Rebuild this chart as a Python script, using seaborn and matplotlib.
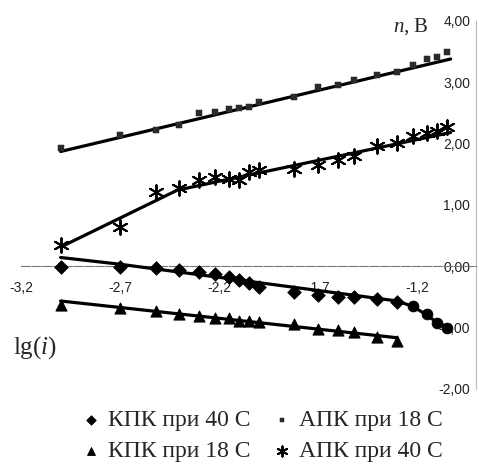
import matplotlib
matplotlib.use("Agg")
import matplotlib.pyplot as plt
import matplotlib.ticker as mticker
import seaborn as sns

# lg(i) values of the measured points
lg_i = [-3.0, -2.7, -2.52, -2.4, -2.3, -2.22, -2.15, -2.1, -2.05, -2.0,
        -1.82, -1.7, -1.6, -1.52, -1.4, -1.3, -1.22, -1.15, -1.1, -1.05]

# n, V
apk18 = [1.92, 2.14, 2.22, 2.30, 2.50, 2.51, 2.56, 2.58, 2.59, 2.68,
         2.76, 2.92, 2.95, 3.03, 3.12, 3.16, 3.28, 3.38, 3.41, 3.49]
apk40 = [0.34, 0.64, 1.21, 1.27, 1.40, 1.45, 1.42, 1.40, 1.53, 1.57,
         1.58, 1.65, 1.73, 1.79, 1.96, 2.01, 2.12, 2.17, 2.20, 2.27]
kpk40 = [-0.02, -0.01, -0.03, -0.07, -0.10, -0.13, -0.18, -0.23, -0.28, -0.34,
         -0.42, -0.47, -0.51, -0.51, -0.54, -0.59]
kpk40_tail = [-0.65, -0.78, -0.93, -1.01]
kpk18 = [-0.64, -0.68, -0.74, -0.79, -0.82, -0.84, -0.85, -0.89, -0.90, -0.92,
         -0.95, -1.02, -1.05, -1.08, -1.15, -1.23]

# hand-drawn approximation lines
apk18_line_x = [-3.0, -1.03]
apk18_line_y = [1.87, 3.38]
apk40_line_x = [-3.0, -2.41, -1.03]
apk40_line_y = [0.31, 1.24, 2.18]
kpk40_line_x = [-3.0, -2.7, -1.3, -1.22, -1.15, -1.1, -1.04]
kpk40_line_y = [0.14, 0.03, -0.57, -0.66, -0.80, -0.92, -1.00]
kpk18_line_x = [-3.0, -1.3]
kpk18_line_y = [-0.57, -1.17]

x_ticks = [-3.2, -2.7, -2.2, -1.7, -1.2]
y_ticks = [-2, -1, 0, 1, 2, 3, 4]

sns.set_theme(style="white")
plt.rcParams["font.family"] = ["Liberation Sans", "DejaVu Sans"]
plt.rcParams["mathtext.fontset"] = "custom"
plt.rcParams["mathtext.it"] = "Liberation Serif:italic"
plt.rcParams["mathtext.rm"] = "Liberation Serif"

fig = plt.figure(figsize=(4.79, 4.71), dpi=100)
ax = fig.add_axes([21 / 479, 1 - 388.6 / 471, 455.4 / 479, 367.6 / 471])

line_kw = dict(color="black", linewidth=2.3, sort=False, estimator=None,
               legend=False, zorder=4)
for lx, ly in [(apk18_line_x, apk18_line_y), (apk40_line_x, apk40_line_y),
               (kpk40_line_x, kpk40_line_y), (kpk18_line_x, kpk18_line_y)]:
    sns.lineplot(x=lx, y=ly, ax=ax, **line_kw)

n16 = len(kpk40)
sns.scatterplot(x=lg_i[:n16], y=kpk40, ax=ax, marker="D", s=48, color="black",
                edgecolor="black", zorder=5, clip_on=False, label="КПК при 40 С")
sns.scatterplot(x=lg_i[n16:], y=kpk40_tail, ax=ax, marker="o", s=60, color="black",
                edgecolor="black", zorder=5, clip_on=False)
sns.scatterplot(x=lg_i[:n16], y=kpk18, ax=ax, marker="^", s=65, color="black",
                edgecolor="black", zorder=5, clip_on=False, label="КПК при 18 С")
sns.scatterplot(x=lg_i, y=apk18, ax=ax, marker="s", s=20, color="#2a2a2a",
                edgecolor="#2a2a2a", zorder=5, clip_on=False, label="АПК при 18 С")
sns.scatterplot(x=lg_i, y=apk40, ax=ax, marker=(6, 2, 0), s=110, color="black",
                linewidth=1.4, zorder=5, clip_on=False, label="АПК при 40 С")
ax.get_legend().remove()

ax.set_xlim(-3.2, -0.9)
ax.set_ylim(-2, 4)
for s in ["top", "right"]:
    ax.spines[s].set_visible(False)
ax.spines["bottom"].set_position(("data", 0))
ax.spines["left"].set_position(("data", -0.9))
ax.spines["bottom"].set_color("#777777")
ax.spines["bottom"].set_linestyle((0, (8, 1.5)))
ax.spines["left"].set_color("#bbbbbb")
ax.spines["bottom"].set_linewidth(0.8)
ax.spines["left"].set_linewidth(0.8)

ax.set_xticks(x_ticks)
ax.set_yticks(y_ticks)
ax.xaxis.set_major_formatter(mticker.FuncFormatter(lambda v, p: f"{v:.1f}".replace(".", ",")))
ax.yaxis.set_major_formatter(mticker.FuncFormatter(lambda v, p: f"{v:.2f}".replace(".", ",")))
ax.tick_params(axis="x", direction="in", length=3, width=0.8, color="#666666",
               pad=11, labelsize=10, labelcolor="#222222")
ax.tick_params(axis="y", direction="in", length=3, width=0.8, color="#666666",
               pad=4.5, labelsize=10, labelcolor="#222222")
ax.set_xlabel("")
ax.set_ylabel("")

fig.text(411 / 479, 1 - 27 / 471, "$n$, В", family="Liberation Serif",
         fontsize=15, ha="center", va="center")
fig.text(13 / 479, 1 - 348 / 471, "lg($i$)", family="Liberation Serif",
         fontsize=18, ha="left", va="center")

handles, labels = ax.get_legend_handles_labels()
order = [labels.index(l) for l in ["КПК при 40 С", "КПК при 18 С", "АПК при 18 С", "АПК при 40 С"]]
fig.legend([handles[i] for i in order], [labels[i] for i in order], ncol=2,
           loc="center", bbox_to_anchor=(264 / 479, 1 - 436 / 471),
           frameon=False, prop={"family": "Liberation Serif", "size": 17},
           handlelength=0.5, handletextpad=0.45, columnspacing=1.1,
           labelspacing=0.42, borderpad=0, markerscale=0.7)

fig.savefig("out.png", dpi=100)
